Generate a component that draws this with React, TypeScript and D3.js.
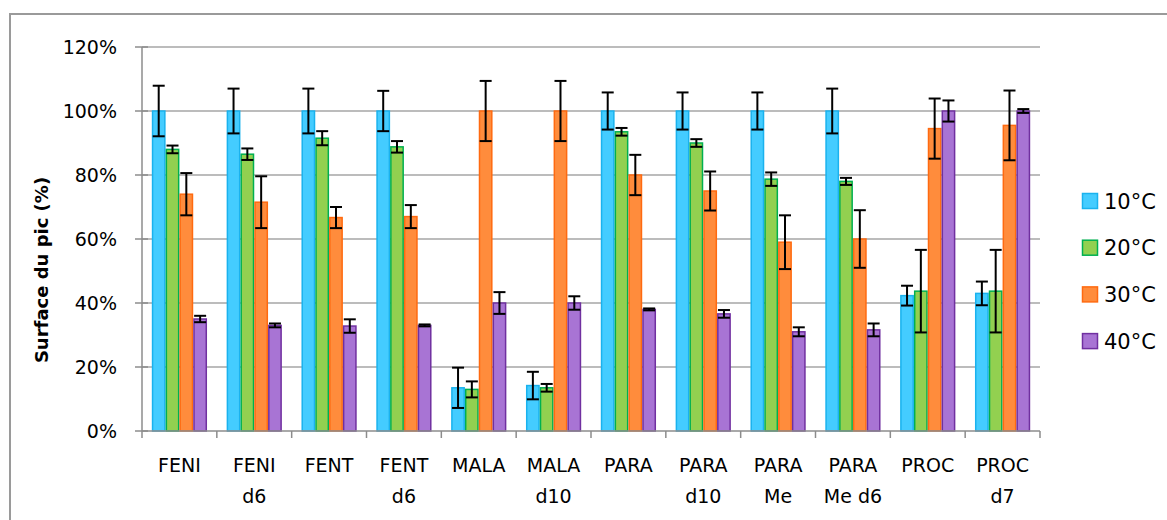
import React from "react";
import * as d3 from "d3";

const categories: string[][] = [
  ["FENI"], ["FENI", "d6"], ["FENT"], ["FENT", "d6"], ["MALA"], ["MALA", "d10"],
  ["PARA"], ["PARA", "d10"], ["PARA", "Me"], ["PARA", "Me d6"], ["PROC"], ["PROC", "d7"],
];
const seriesNames = ["10°C", "20°C", "30°C", "40°C"];
const s10 = [100, 100, 100, 100, 13.5, 14.2, 100, 100, 100, 100, 42.3, 43];
const e10 = [7.9, 7, 7, 6.3, 6.3, 4.3, 5.8, 5.8, 5.8, 7, 3.1, 3.7];
const s20 = [88, 86.5, 91.5, 88.8, 13, 13.5, 93.5, 90, 78.7, 78, 43.7, 43.7];
const e20 = [1.2, 1.8, 2.2, 1.8, 2.5, 1.2, 1.2, 1.2, 2.1, 1.1, 12.9, 12.9];
const s30 = [74, 71.5, 66.7, 67, 100, 100, 80, 75, 59, 60, 94.5, 95.5];
const e30 = [6.6, 8.1, 3.3, 3.6, 9.4, 9.4, 6.3, 6.1, 8.4, 9, 9.4, 10.9];
const s40 = [35, 33, 32.8, 33, 40, 40, 38, 36.6, 31, 31.6, 100, 100];
const e40 = [1, 0.6, 2.1, 0.3, 3.4, 2.1, 0.3, 1.2, 1.4, 2, 3.3, 0.6];
const yTicks = [0, 20, 40, 60, 80, 100, 120];

const values = [s10, s20, s30, s40];
const errors = [e10, e20, e30, e40];
const fills = ["#44CCFF", "#92D050", "#FF8C3C", "#A874D4"];
const strokes = ["#1AB2EE", "#00B050", "#FF6A10", "#7030A0"];

const FONT = "'DejaVu Sans', sans-serif";

export default function App() {
  const W = 1167, H = 520;
  const x0 = 142, x1 = 1040, yBottom = 431, yTop = 47;
  const y = d3.scaleLinear().domain([0, 120]).range([yBottom, yTop]);
  const x = d3.scaleBand<number>().domain(categories.map((_, i) => i)).range([x0, x1]).padding(0);
  const bw = x.bandwidth();
  const inner = d3.scaleBand<number>().domain([0, 1, 2, 3]).range([bw * 0.131, bw * 0.869]).padding(0);
  const barW = inner.bandwidth();
  const cap = 6;

  return (
    <svg width={W} height={H} style={{ position: "absolute", left: 0, top: 0, display: "block", background: "#fff" }}
      fontFamily={FONT}>
      <rect x={10} y={14} width={W} height={H} fill="#fff" stroke="#9a9a9a" strokeWidth={2} />
      {yTicks.filter(t => t > 0).map(t => (
        <line key={"g" + t} x1={x0} x2={x1} y1={y(t)} y2={y(t)} stroke="#a6a6a6" strokeWidth={1.5} />
      ))}
      {categories.map((_, ci) => (
        <g key={"c" + ci}>
          {values.map((vals, si) => {
            const bx = (x(ci) as number) + (inner(si) as number);
            return (
              <rect key={"b" + si} x={bx + 0.75} y={y(vals[ci])} width={barW - 1.5} height={yBottom - y(vals[ci])}
                fill={fills[si]} stroke={strokes[si]} strokeWidth={1.5} />
            );
          })}
          {values.map((vals, si) => {
            const cx = (x(ci) as number) + (inner(si) as number) + barW / 2;
            const hi = y(vals[ci] + errors[si][ci]);
            const lo = y(vals[ci] - errors[si][ci]);
            return (
              <g key={"e" + si} stroke="#000" strokeWidth={2}>
                <line x1={cx} x2={cx} y1={hi} y2={lo} />
                <line x1={cx - cap} x2={cx + cap} y1={hi} y2={hi} />
                <line x1={cx - cap} x2={cx + cap} y1={lo} y2={lo} />
              </g>
            );
          })}
        </g>
      ))}
      <line x1={x0} x2={x0} y1={yTop} y2={yBottom} stroke="#8c8c8c" strokeWidth={1.5} />
      {yTicks.map(t => (
        <g key={"t" + t}>
          <line x1={x0 - 7} x2={x0 + 6} y1={y(t)} y2={y(t)} stroke="#8c8c8c" strokeWidth={1.5} />
          <text x={117} y={y(t)} dy="0.36em" textAnchor="end" fontSize={19} fill="#000">{t + "%"}</text>
        </g>
      ))}
      <line x1={x0} x2={x1} y1={yBottom} y2={yBottom} stroke="#8c8c8c" strokeWidth={1.5} />
      {categories.map((_, i) => (
        <line key={"xt" + i} x1={(x(i) as number)} x2={(x(i) as number)} y1={yBottom} y2={yBottom + 7} stroke="#8c8c8c" strokeWidth={1.5} />
      ))}
      <line x1={x1} x2={x1} y1={yBottom} y2={yBottom + 7} stroke="#8c8c8c" strokeWidth={1.5} />
      {categories.map((lines, i) => (
        <text key={"xl" + i} x={(x(i) as number) + bw / 2} textAnchor="middle" fontSize={19} fill="#000">
          {lines.map((l, li) => (
            <tspan key={li} x={(x(i) as number) + bw / 2} y={472 + li * 31}>{l}</tspan>
          ))}
        </text>
      ))}
      <text transform={`translate(48,270) rotate(-90)`} textAnchor="middle" fontSize={18} fontWeight="bold" fill="#000">
        Surface du pic (%)
      </text>
      {seriesNames.map((n, i) => {
        const cy = 201 + i * 46.7;
        return (
          <g key={"l" + i}>
            <rect x={1082.5} y={cy - 7.5} width={15} height={15} fill={fills[i]} stroke={strokes[i]} strokeWidth={1.5} />
            <text x={1104} y={cy} dy="0.36em" fontSize={21} fill="#000">{n}</text>
          </g>
        );
      })}
    </svg>
  );
}
